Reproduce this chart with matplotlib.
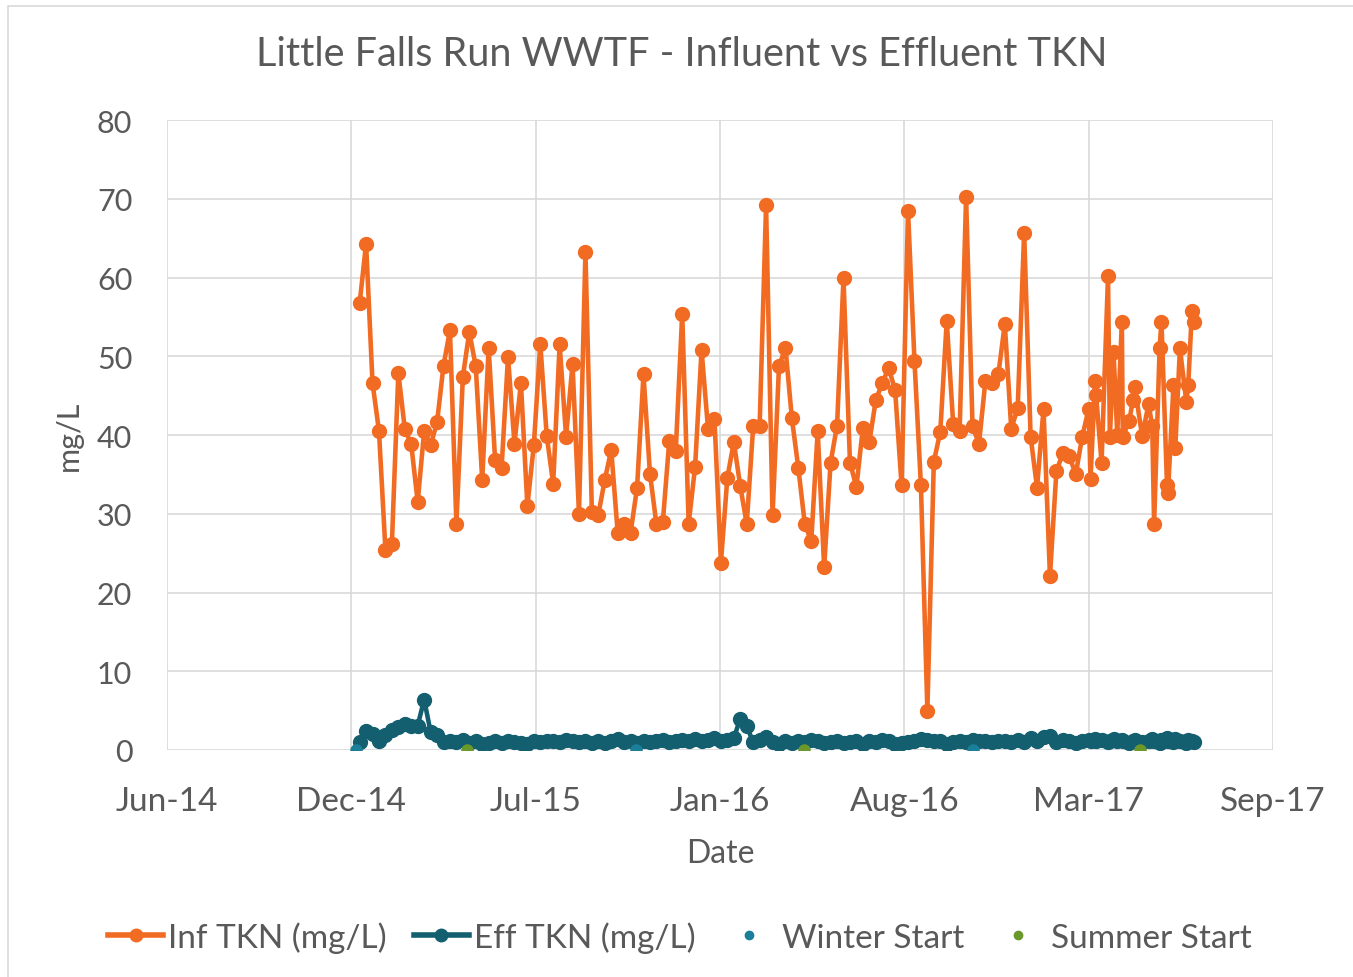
import matplotlib
matplotlib.use("Agg")
from matplotlib import pyplot as plt
from matplotlib.lines import Line2D
import numpy as np
import pandas as pd

# weekly samples, Jan 2015 - Feb 2017
inf_weekly = [56.7, 64.3, 46.6, 40.5, 25.4, 26.2, 47.9, 40.8, 38.8, 31.5,
              40.5, 38.7, 41.6, 48.8, 53.3, 28.7, 47.4, 53.1, 48.7, 34.3,
              51.1, 36.8, 35.8, 49.9, 38.9, 46.6, 31.0, 38.7, 51.6, 39.9,
              33.8, 51.5, 39.8, 49.0, 30.0, 63.2, 30.2, 29.9, 34.3, 38.1,
              27.6, 28.7, 27.6, 33.3, 47.7, 35.1, 28.7, 29.0, 39.3, 38.0,
              55.4, 28.7, 36.0, 50.8, 40.8, 42.0, 23.8, 34.6, 39.1, 33.5,
              28.7, 41.1, 41.1, 69.2, 29.8, 48.7, 51.1, 42.1, 35.8, 28.7,
              26.5, 40.5, 23.2, 36.5, 41.2, 59.9, 36.5, 33.4, 40.9, 39.1,
              44.4, 46.6, 48.5, 45.7, 33.6, 68.5, 49.4, 33.6, 5.0, 36.6,
              40.4, 54.5, 41.4, 40.5, 70.2, 41.1, 38.9, 46.9, 46.6, 47.7,
              54.1, 40.8, 43.4, 65.7, 39.8, 33.3, 43.3, 22.1, 35.4, 37.7,
              37.3, 35.0, 39.8]
eff_weekly = [1.0, 2.4, 2.0, 1.2, 1.9, 2.5, 2.9, 3.3, 3.0, 3.1,
              6.4, 2.3, 1.9, 1.0, 1.2, 1.0, 1.3, 0.9, 1.2, 0.8,
              0.9, 1.1, 0.9, 1.2, 1.0, 0.9, 0.7, 1.1, 1.0, 1.2,
              1.1, 1.0, 1.3, 1.1, 1.0, 1.1, 0.9, 1.2, 0.9, 1.1,
              1.4, 1.0, 1.2, 0.9, 1.1, 1.0, 1.2, 1.3, 1.0, 1.2,
              1.3, 1.1, 1.4, 1.2, 1.3, 1.5, 1.2, 1.3, 1.5, 4.0,
              3.0, 1.0, 1.3, 1.6, 1.0, 0.8, 1.1, 0.9, 1.2, 1.0,
              1.3, 1.1, 0.9, 1.0, 1.2, 0.9, 1.0, 1.1, 0.8, 1.2,
              1.0, 1.3, 1.1, 0.8, 0.9, 1.0, 1.2, 1.4, 1.3, 1.1,
              1.2, 0.8, 1.0, 1.1, 1.0, 1.3, 1.1, 1.2, 1.0, 1.1,
              1.2, 1.0, 1.3, 1.0, 1.5, 1.2, 1.6, 1.8, 1.0, 1.3,
              1.1, 0.9, 1.2]

# twice-weekly samples, Mar - Jun 2017
dates_2017 = ['2017-03-06', '2017-03-08', '2017-03-13', '2017-03-14', '2017-03-20',
              '2017-03-27', '2017-03-29', '2017-04-02', '2017-04-06', '2017-04-11',
              '2017-04-12', '2017-04-19', '2017-04-23', '2017-04-25', '2017-05-03',
              '2017-05-10', '2017-05-14', '2017-05-16', '2017-05-22', '2017-05-24',
              '2017-05-30', '2017-05-31', '2017-06-06', '2017-06-08', '2017-06-13',
              '2017-06-20', '2017-06-22', '2017-06-26', '2017-06-28']
inf_2017 = [43.3, 34.4, 46.8, 45.1, 36.5, 60.2, 39.7, 50.5, 40.0, 54.4,
            39.8, 41.8, 44.4, 46.1, 39.9, 43.9, 41.1, 28.7, 51.1, 54.4,
            33.6, 32.6, 46.3, 38.4, 51.0, 44.2, 46.3, 55.7, 54.4]
eff_2017 = [1.3, 1.2, 1.4, 1.1, 1.3, 1.0, 1.2, 1.4, 1.1, 1.3,
            1.2, 0.9, 1.1, 1.3, 1.0, 1.2, 1.4, 1.1, 0.9, 1.3,
            1.5, 1.2, 1.0, 1.4, 1.2, 0.9, 1.3, 1.1, 1.0]

winter_start = ['2015-01-01', '2015-11-01', '2016-11-01']
summer_start = ['2015-05-01', '2016-05-01', '2017-05-01']

dates = list(pd.date_range('2015-01-05', periods=len(inf_weekly), freq='7D')) + \
    list(pd.to_datetime(dates_2017))
inf = inf_weekly + inf_2017
eff = eff_weekly + eff_2017

ORANGE = '#F26B23'
TEAL = '#135F70'
WINTER = '#1B7F99'
SUMMER = '#6A982B'
GREY = '#595959'
GRID = '#D9D9D9'

plt.rcParams['font.family'] = ['Lato', 'DejaVu Sans']

fig = plt.figure(figsize=(13.53, 9.78), dpi=100)
ax = fig.add_axes([167 / 1353, 1 - 751 / 978, (1273 - 167) / 1353, (751 - 121) / 978])

# chart border
fig.add_artist(plt.Rectangle((8 / 1353, -0.01), 1.0, 1 - 7 / 978 + 0.01,
                             transform=fig.transFigure, fill=False,
                             edgecolor=GRID, lw=1.2))

ax.plot(dates, inf, color=ORANGE, lw=3.3, marker='o', ms=10, zorder=3)
ax.plot(dates, eff, color=TEAL, lw=3.3, marker='o', ms=10, zorder=4)
ax.plot(pd.to_datetime(winter_start), [0] * len(winter_start), ls='none', marker='o',
        ms=8, color=WINTER, zorder=5)
ax.plot(pd.to_datetime(summer_start), [0] * len(summer_start), ls='none', marker='o',
        ms=8, color=SUMMER, zorder=5)

x0 = pd.Timestamp('2014-06-10')
xticks = [x0 + pd.Timedelta(days=200 * k) for k in range(7)]
ax.set_xlim(xticks[0], xticks[-1])
ax.set_xticks(xticks)
ax.set_xticklabels([t.strftime('%b-%y') for t in xticks])
ax.set_ylim(0, 80)
ax.set_yticks(range(0, 81, 10))

for s in ax.spines.values():
    s.set_visible(False)
ax.grid(True, color=GRID, lw=1.2)
ax.set_axisbelow(True)
ax.tick_params(axis='x', length=0, labelsize=24, colors=GREY, pad=26)
ax.tick_params(axis='y', length=0, labelsize=22, colors=GREY, pad=25)

ax.set_xlabel('Date', fontsize=23, color=GREY, labelpad=16)
ax.set_ylabel('mg/L', fontsize=22, color=GREY, labelpad=10)
fig.text(682 / 1353, 1 - 55 / 978, 'Little Falls Run WWTF - Influent vs Effluent TKN',
         fontsize=28.5, color=GREY, ha='center', va='center')

handles = [
    Line2D([], [], color=ORANGE, lw=4, marker='o', ms=9),
    Line2D([], [], color=TEAL, lw=4, marker='o', ms=9),
    Line2D([], [], ls='none', color=WINTER, marker='o', ms=6),
    Line2D([], [], ls='none', color=SUMMER, marker='o', ms=6),
]
labels = ['Inf TKN (mg/L)', 'Eff TKN (mg/L)', 'Winter Start', 'Summer Start']
leg = fig.legend(handles, labels, loc='center', bbox_to_anchor=(680 / 1353, 1 - 938 / 978),
                 ncol=4, frameon=False, fontsize=24, handlelength=1.65,
                 columnspacing=0.8, handletextpad=0.15)
for t in leg.get_texts():
    t.set_color(GREY)

fig.savefig('out.png', dpi=100)
